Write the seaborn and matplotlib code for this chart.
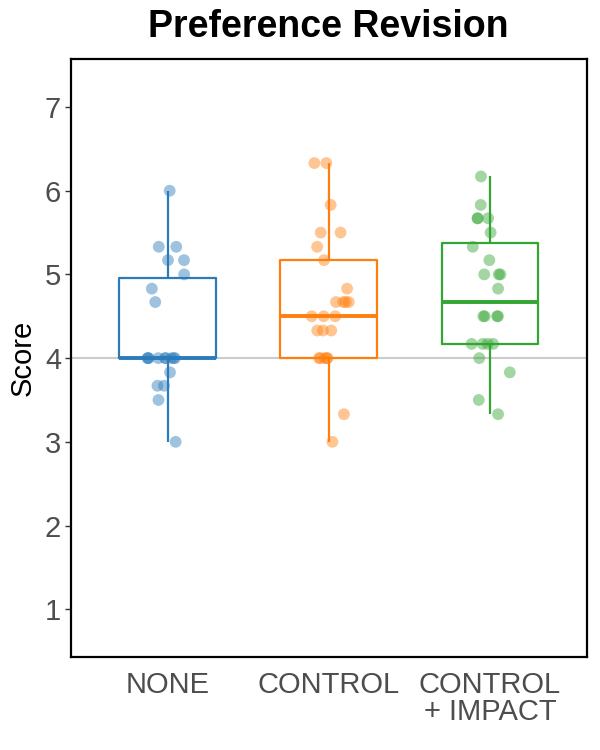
import numpy as np
import pandas as pd
import matplotlib
matplotlib.use("Agg")
import matplotlib.pyplot as plt
import seaborn as sns

# ---- data ----
categories = ["NONE", "CONTROL", "CONTROL\n+ IMPACT"]
none_scores = [6.0, 5.33, 5.33, 5.17, 5.17, 5.0, 4.83, 4.67,
               4.0, 4.0, 4.0, 4.0, 4.0, 4.0, 4.0, 4.0, 4.0,
               3.83, 3.67, 3.67, 3.5, 3.0]
control_scores = [6.33, 6.33, 5.83, 5.5, 5.5, 5.33, 5.17, 4.83,
                  4.67, 4.67, 4.67, 4.67, 4.5, 4.5, 4.5,
                  4.33, 4.33, 4.33, 4.0, 4.0, 4.0, 4.0, 4.0, 3.33, 3.0]
impact_scores = [6.17, 5.83, 5.67, 5.67, 5.67, 5.5, 5.33, 5.17,
                 5.0, 5.0, 5.0, 4.83, 4.5, 4.5, 4.5, 4.5,
                 4.17, 4.17, 4.17, 4.17, 4.0, 3.83, 3.5, 3.33]
colors = ["#2b7bba", "#ff7f0e", "#33a532"]
y_ticks = [1, 2, 3, 4, 5, 6, 7]
ref_line = 4

df = pd.DataFrame({
    "group": [categories[0]] * len(none_scores)
             + [categories[1]] * len(control_scores)
             + [categories[2]] * len(impact_scores),
    "Score": none_scores + control_scores + impact_scores,
})

sns.set_theme(style="white")
plt.rcParams["font.family"] = ["Liberation Sans", "DejaVu Sans"]

fig = plt.figure(figsize=(6, 7.5), dpi=100)
ax = fig.add_axes([0.118, 0.124, 0.860, 0.797])

ax.axhline(ref_line, color="#cccccc", lw=1.5, zorder=0)

pal = dict(zip(categories, colors))
sns.boxplot(data=df, x="group", y="Score", hue="group", palette=pal,
            order=categories, hue_order=categories, fill=False,
            width=0.6, whis=(0, 100), showfliers=False, legend=False,
            linewidth=1.6, medianprops={"linewidth": 2.8}, showcaps=False,
            ax=ax, zorder=2)

np.random.seed(3)
sns.stripplot(data=df, x="group", y="Score", hue="group", palette=pal,
              order=categories, hue_order=categories, jitter=0.13,
              size=8.5, alpha=0.45, linewidth=0, legend=False, ax=ax,
              zorder=3)

ax.set_xlim(-0.6, 2.6)
ax.set_ylim(0.43, 7.57)
ax.set_yticks(y_ticks)
ax.set_yticklabels([str(t) for t in y_ticks])
ax.set_xlabel("")
ax.set_ylabel("Score", fontsize=21, color="black", labelpad=6)
ax.tick_params(axis="y", which="both", left=True, length=4, width=1,
               color="#333333", labelsize=21, labelcolor="#4d4d4d", pad=3)
ax.tick_params(axis="x", bottom=False, labelsize=21, labelcolor="#4d4d4d",
               pad=4)
for lab in ax.get_xticklabels():
    lab.set_linespacing(0.95)
for s in ax.spines.values():
    s.set_color("black")
    s.set_linewidth(1.6)
ax.set_title("Preference Revision", fontsize=27, fontweight="bold",
             color="black", pad=16)

fig.savefig("out.png", dpi=100, facecolor="white")
